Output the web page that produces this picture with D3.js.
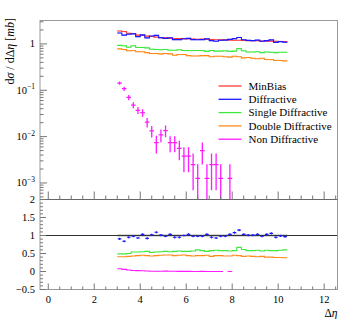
<!DOCTYPE html>
<html><head><meta charset="utf-8">
<script src="https://cdn.jsdelivr.net/npm/d3@7"></script>
<style>
html,body{margin:0;padding:0;background:#fff;}
svg{display:block;font-family:"Liberation Serif","DejaVu Serif",serif;}
</style></head>
<body><svg id="c" width="349" height="319"></svg>
<script>
// ---- data ----
const binStart = 3.0, binWidth = 0.2;
const minBias = [1.9,1.85,1.7,1.68,1.55,1.52,1.47,1.45,1.40,1.36,1.35,1.32,1.30,1.31,1.29,1.28,1.27,1.26,1.27,1.25,1.24,1.23,1.22,1.23,1.21,1.20,1.20,1.19,1.18,1.17,1.17,1.16,1.15,1.15,1.14,1.13,1.12];
const diffractive = [1.72,1.55,1.62,1.65,1.44,1.57,1.35,1.48,1.53,1.37,1.32,1.36,1.24,1.24,1.29,1.32,1.24,1.23,1.24,1.29,1.18,1.14,1.20,1.21,1.25,1.30,1.38,1.23,1.19,1.18,1.21,1.14,1.18,1.22,1.08,1.12,1.09];
const singleDiff = [0.93,0.91,0.85,0.91,0.84,0.84,0.82,0.77,0.76,0.75,0.76,0.73,0.73,0.75,0.72,0.72,0.72,0.72,0.72,0.69,0.72,0.70,0.70,0.71,0.69,0.70,0.79,0.71,0.67,0.67,0.68,0.65,0.67,0.66,0.65,0.66,0.66];
const doubleDiff = [0.78,0.76,0.71,0.72,0.68,0.68,0.65,0.62,0.62,0.61,0.62,0.61,0.57,0.59,0.59,0.56,0.55,0.55,0.56,0.56,0.53,0.54,0.54,0.53,0.52,0.54,0.53,0.50,0.51,0.49,0.48,0.49,0.46,0.46,0.44,0.44,0.43];
const nonDiff = [0.143,0.108,0.070,0.048,0.037,0.033,0.0205,0.0133,0.0074,0.0109,0.0135,0.0074,0.0074,0.0056,0.0038,0.0038,0.0025,0.00126,0.005,0.00126,0.0025,0.0025,0.00126,0,0.00126,0,0,0,0,0,0,0,0,0,0,0,0];
const nonDiffErr = [0.012,0.011,0.009,0.007,0.0063,0.006,0.0047,0.0037,0.0031,0.0033,0.0038,0.0028,0.0028,0.0025,0.0021,0.0021,0.0018,0.00126,0.0025,0.00126,0.0018,0.0018,0.00126,0,0.00126,0,0,0,0,0,0,0,0,0,0,0,0];
const ratioDiff = [0.905,0.84,0.95,0.98,0.93,1.03,0.92,1.02,1.09,1.01,0.98,1.03,0.95,0.95,1.0,1.03,0.98,0.98,0.98,1.03,0.95,0.93,0.98,0.98,1.03,1.08,1.15,1.03,1.01,1.01,1.03,0.98,1.03,1.06,0.95,0.99,0.97];
const ratioDiffErr = [0.03,0.03,0.03,0.03,0.03,0.03,0.03,0.03,0.03,0.03,0.03,0.03,0.03,0.03,0.03,0.03,0.03,0.03,0.03,0.03,0.03,0.03,0.03,0.03,0.03,0.03,0.03,0.03,0.03,0.03,0.03,0.03,0.03,0.03,0.03,0.03,0.03];
const ratioSD = [0.49,0.49,0.50,0.54,0.54,0.55,0.56,0.53,0.54,0.55,0.56,0.55,0.56,0.57,0.56,0.56,0.57,0.60,0.58,0.56,0.58,0.59,0.58,0.58,0.57,0.58,0.67,0.61,0.58,0.58,0.59,0.57,0.59,0.58,0.58,0.59,0.60];
const ratioDD = [0.41,0.41,0.42,0.43,0.44,0.45,0.44,0.43,0.44,0.45,0.46,0.46,0.44,0.45,0.46,0.44,0.43,0.44,0.44,0.45,0.42,0.44,0.44,0.43,0.43,0.45,0.44,0.42,0.43,0.42,0.41,0.42,0.40,0.40,0.39,0.39,0.38];
const ratioND = [0.075,0.058,0.041,0.029,0.024,0.022,0.014,0.009,0.005,0.008,0.010,0.0056,0.0057,0.0043,0.003,0.003,0.002,0.001,0.004,0.001,0.002,0.002,0.001,null,0.001,null,null,null,null,null,null,null,null,null,null,null,null];
const legendNames = ["MinBias","Diffractive","Single Diffractive","Double Diffractive","Non Diffractive"];
const colors = ["#ff3b3b","#1a1aff","#3ee83e","#ff8a1a","#ff1aff"];
const xTicks = [0,2,4,6,8,10,12];
const ratioTicks = [-0.5,0,0.5,1,1.5,2];

// ---- layout ----
const L = 40, R = 337.5, T = 20.5, MID = 199.5, B = 289.5;
const svg = d3.select("#c");
const x = d3.scaleLinear().domain([-0.36,12.58]).range([L,R]);
const y = d3.scaleLog().domain([4.4e-4,3.2]).range([MID,T]);
const yr = d3.scaleLinear().domain([-0.5,2]).range([B,MID]);
const edges = d3.range(minBias.length+1).map(i=>binStart+i*binWidth);

svg.append("defs").html(`<clipPath id="cpTop"><rect x="${L}" y="${T}" width="${R-L}" height="${MID-T}"/></clipPath>
<clipPath id="cpBot"><rect x="${L}" y="${MID}" width="${R-L}" height="${B-MID}"/></clipPath>`);

function stepPts(vals){
  const pts=[];
  vals.forEach((v,i)=>{pts.push({x:edges[i],v:v});pts.push({x:edges[i+1],v:v});});
  return pts;
}
const gTop = svg.append("g").attr("clip-path","url(#cpTop)");
const gBot = svg.append("g").attr("clip-path","url(#cpBot)");

// top panel lines with light bands
[minBias,diffractive,singleDiff,doubleDiff].forEach((vals,k)=>{
  const pts = stepPts(vals);
  const area = d3.area().x(d=>x(d.x)).y0(d=>y(d.v*0.97)).y1(d=>y(d.v*1.03));
  gTop.append("path").attr("d",area(pts)).attr("fill",colors[k]).attr("opacity",0.3);
  const line = d3.line().x(d=>x(d.x)).y(d=>y(d.v));
  gTop.append("path").attr("d",line(pts)).attr("fill","none").attr("stroke",colors[k]).attr("stroke-width",1.1);
});
// non-diffractive points with errors
nonDiff.forEach((v,i)=>{
  if(!(v>0)) return;
  const e = nonDiffErr[i];
  const lo = v-e>0 ? y(v-e) : MID+5;
  const cx = x((edges[i]+edges[i+1])/2);
  gTop.append("line").attr("x1",x(edges[i])).attr("x2",x(edges[i+1])).attr("y1",y(v)).attr("y2",y(v))
    .attr("stroke",colors[4]).attr("stroke-width",1.3);
  gTop.append("line").attr("x1",cx).attr("x2",cx).attr("y1",y(v+e)).attr("y2",lo)
    .attr("stroke",colors[4]).attr("stroke-width",1.3);
});

// ratio panel
gBot.append("rect").attr("x",x(edges[0])).attr("width",x(edges[edges.length-1])-x(edges[0]))
  .attr("y",yr(1.03)).attr("height",yr(0.97)-yr(1.03)).attr("fill","#bbbbbb");
gBot.append("line").attr("x1",L).attr("x2",R).attr("y1",yr(1)).attr("y2",yr(1)).attr("stroke","#333").attr("stroke-width",1);
[[ratioSD,2],[ratioDD,3],[ratioND,4]].forEach(([vals,k])=>{
  const pts = stepPts(vals);
  const line = d3.line().defined(d=>d.v!=null).x(d=>x(d.x)).y(d=>yr(d.v));
  gBot.append("path").attr("d",line(pts)).attr("fill","none").attr("stroke",colors[k]).attr("stroke-width",1.1);
});
ratioDiff.forEach((v,i)=>{
  const e = ratioDiffErr[i];
  const cx = x((edges[i]+edges[i+1])/2);
  gBot.append("line").attr("x1",x(edges[i])+0.5).attr("x2",x(edges[i+1])-0.5).attr("y1",yr(v)).attr("y2",yr(v))
    .attr("stroke",colors[1]).attr("stroke-width",1.1);
  gBot.append("line").attr("x1",cx).attr("x2",cx).attr("y1",yr(v+e)).attr("y2",yr(v-e))
    .attr("stroke",colors[1]).attr("stroke-width",1.1);
});

// frames
const frame = svg.append("g").attr("fill","none");
frame.append("rect").attr("x",L).attr("y",T).attr("width",R-L).attr("height",B-T).attr("stroke","#999").attr("stroke-width",1);
frame.append("line").attr("x1",L).attr("x2",R).attr("y1",MID).attr("y2",MID).attr("stroke","#666").attr("stroke-width",1);

const tickCol = "#777";
// x ticks (both panels, pointing up from bottom)
const xMinor = d3.range(0,12.51,0.5);
[[MID,8,4],[B,6,3]].forEach(([yy,maj,mn])=>{
  xMinor.forEach(t=>{
    const isMaj = Math.abs(t/2-Math.round(t/2))<1e-6;
    svg.append("line").attr("x1",x(t)).attr("x2",x(t)).attr("y1",yy).attr("y2",yy-(isMaj?maj:mn))
      .attr("stroke",tickCol).attr("stroke-width",1);
  });
});
// y ticks top (log)
for(let p=-4;p<=0;p++){
  for(let m=1;m<=9;m++){
    const v = m*Math.pow(10,p);
    if(v<y.domain()[0]||v>y.domain()[1]) continue;
    svg.append("line").attr("x1",L).attr("x2",L+(m===1?7:3.5)).attr("y1",y(v)).attr("y2",y(v)).attr("stroke",tickCol);
  }
}
// y ticks ratio
d3.range(-0.5,2.001,0.1).forEach(t=>{
  const isMaj = Math.abs(t*2-Math.round(t*2))<1e-6;
  svg.append("line").attr("x1",L).attr("x2",L+(isMaj?6:3)).attr("y1",yr(t)).attr("y2",yr(t)).attr("stroke",tickCol);
});

// labels
const fs = 10.5;
xTicks.forEach(t=>{
  svg.append("text").attr("x",x(t)).attr("y",302.5).attr("text-anchor","middle").attr("font-size",fs).text(t);
});
ratioTicks.forEach(t=>{
  svg.append("text").attr("x",35).attr("y",yr(t)+3.5).attr("text-anchor","end").attr("font-size",fs)
    .text(t<0?"\u2212"+Math.abs(t):String(t));
});
const logLabels = [0,-1,-2,-3];
logLabels.forEach(p=>{
  const tx = svg.append("text").attr("x",35).attr("y",y(Math.pow(10,p))+3.5).attr("text-anchor","end").attr("font-size",fs);
  if(p===0){tx.text("1");}
  else{
    tx.append("tspan").text("10");
    tx.append("tspan").attr("dy",-4.5).attr("font-size",7.5).text("\u2212"+Math.abs(p));
  }
});
// axis titles
const yt = svg.append("text").attr("transform","translate(14,18) rotate(-90)").attr("text-anchor","end").attr("font-size",12);
yt.append("tspan").text("d");
yt.append("tspan").attr("font-style","italic").text("\u03c3");
yt.append("tspan").text(" / d\u0394");
yt.append("tspan").attr("font-style","italic").text("\u03b7");
yt.append("tspan").text(" [");
yt.append("tspan").attr("font-style","italic").text("mb");
yt.append("tspan").text("]");
const xt = svg.append("text").attr("x",R).attr("y",316.5).attr("text-anchor","end").attr("font-size",11.5);
xt.append("tspan").text("\u0394");
xt.append("tspan").attr("font-style","italic").text("\u03b7");

// legend
const legY0 = 86, legDy = 13.3;
legendNames.forEach((n,i)=>{
  const yy = legY0+i*legDy;
  svg.append("line").attr("x1",218.5).attr("x2",241.5).attr("y1",yy).attr("y2",yy).attr("stroke",colors[i]).attr("stroke-width",1.3);
  svg.append("text").attr("x",248.5).attr("y",yy+3.8).attr("font-size",11).text(n);
});
</script>
</body></html>
